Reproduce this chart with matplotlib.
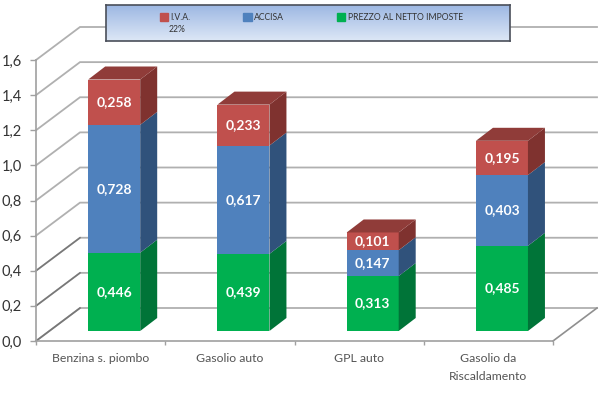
import matplotlib
matplotlib.use("Agg")
import matplotlib.pyplot as plt
import numpy as np
from matplotlib.patches import Polygon, Patch

plt.rcParams['font.family'] = ['Lato', 'DejaVu Sans']

categories = ["Benzina s. piombo", "Gasolio auto", "GPL auto", "Gasolio da\nRiscaldamento"]
netto = [0.446, 0.439, 0.313, 0.485]
accisa = [0.728, 0.617, 0.147, 0.403]
iva = [0.258, 0.233, 0.101, 0.195]
y_ticks = [0.0, 0.2, 0.4, 0.6, 0.8, 1.0, 1.2, 1.4, 1.6]
series_names = ["I.V.A.", "ACCISA", "PREZZO AL NETTO IMPOSTE"]

W, H = 599, 393
fig = plt.figure(figsize=(W/100, H/100), dpi=100, facecolor='white')
ax = fig.add_axes([36/W, 1-341/H, (553-36)/W, (341-60)/H])
ax.set_xlim(0, 4)
ax.set_ylim(0, 1.6)
px_x = (553-36)/4
px_y = (341-60)/1.6

# perspective offsets, in data units
wall_dx, wall_dy = 44/px_x, 33/px_y
bar_dx, bar_dy = 17/px_x, 13/px_y
base = 10/px_y
bar_w = 52/px_x
pos = np.arange(4) + 0.605

grid_c = '#b0b0b0'
for t in y_ticks:
    ax.plot([0, wall_dx, 4+wall_dx], [t, t+wall_dy, t+wall_dy], color=grid_c, lw=1.3,
            clip_on=False, zorder=1, solid_joinstyle='miter')
ax.plot([4, 4+wall_dx], [0, wall_dy], color='#8f8f8f', lw=1.2, clip_on=False, zorder=1)
ax.plot([0, wall_dx], [0, wall_dy], color='#777777', lw=1.2, clip_on=False, zorder=1)
ax.plot([0, wall_dx], [0.2, 0.2+wall_dy], color='#777777', lw=1.1, clip_on=False, zorder=1)
ax.plot([0, wall_dx], [0.4, 0.4+wall_dy], color='#777777', lw=1.1, clip_on=False, zorder=1)

front = ['#00B050', '#4F81BD', '#C0504D']
side = ['#007438', '#30527B', '#7F322F']
top_c = '#903C39'
bottoms = np.zeros(4) + base
for vals, fc, sc in zip([netto, accisa, iva], front, side):
    vals = np.array(vals)
    ax.bar(pos, vals, bar_w, bottom=bottoms, color=fc, zorder=3, linewidth=0)
    for p, b, v in zip(pos, bottoms, vals):
        xr = p + bar_w/2
        ax.add_patch(Polygon([(xr, b), (xr+bar_dx, b+bar_dy), (xr+bar_dx, b+v+bar_dy), (xr, b+v)],
                             closed=True, fc=sc, ec='none', zorder=3, clip_on=False))
        ax.text(p, b+v/2, f"{v:.3f}".replace('.', ','), ha='center', va='center',
                color='white', fontsize=10, fontweight='bold', zorder=5)
    bottoms = bottoms + vals
for p, b in zip(pos, bottoms):
    xl, xr = p-bar_w/2, p+bar_w/2
    ax.add_patch(Polygon([(xl, b), (xl+bar_dx, b+bar_dy), (xr+bar_dx, b+bar_dy), (xr, b)],
                         closed=True, fc=top_c, ec='none', zorder=3, clip_on=False))

for s in ['top', 'right']:
    ax.spines[s].set_visible(False)
for s in ['left', 'bottom']:
    ax.spines[s].set_color('#a0a0a0')
    ax.spines[s].set_linewidth(1.2)
ax.set_yticks(y_ticks)
ax.set_yticklabels([f"{t:.1f}".replace('.', ',') for t in y_ticks], fontsize=10.5, color='#333333')
ax.set_xticks(np.arange(5))
ax.set_xticklabels([])
ax.set_xticks(np.arange(4)+0.5, minor=True)
ax.set_xticklabels(categories, minor=True, fontsize=8.8, color='#555555', linespacing=1.7, va='top', ha='center')
ax.tick_params(axis='x', which='minor', length=0, pad=9)
ax.tick_params(axis='x', which='major', length=3, color='#a0a0a0', width=1)
ax.tick_params(axis='y', length=4, color='#a0a0a0', width=1, pad=6)

# legend panel
lax = fig.add_axes([106/W, 1-41/H, (510-106)/W, 36/H], zorder=10)
grad = np.linspace(0, 1, 64)[:, None, None]
c1 = np.array([0x9D, 0xB8, 0xE3])/255
c2 = np.array([0xDD, 0xE7, 0xF6])/255
lax.imshow(c1 + (c2-c1)*grad, aspect='auto', extent=[0, 1, 0, 1])
lax.set_xticks([]); lax.set_yticks([])
for s in lax.spines.values():
    s.set_color('#4a4f5a'); s.set_linewidth(1.2)
handles = [Patch(color=c) for c in ['#C0504D', '#4F81BD', '#00B050']]
leg = lax.legend(handles, series_names, ncol=3, frameon=False, fontsize=6.2, loc='upper left',
                 bbox_to_anchor=((151-106)/404, 1.02), handlelength=0.95, handleheight=0.95, handletextpad=0.25,
                 columnspacing=6.2, labelcolor='#333333', borderpad=1.0, borderaxespad=0)
lax.text((177-106)/404, (41-29)/36, "22%", fontsize=6.2, color='#333333', ha='center', va='center')

fig.savefig('out.png', dpi=100)
